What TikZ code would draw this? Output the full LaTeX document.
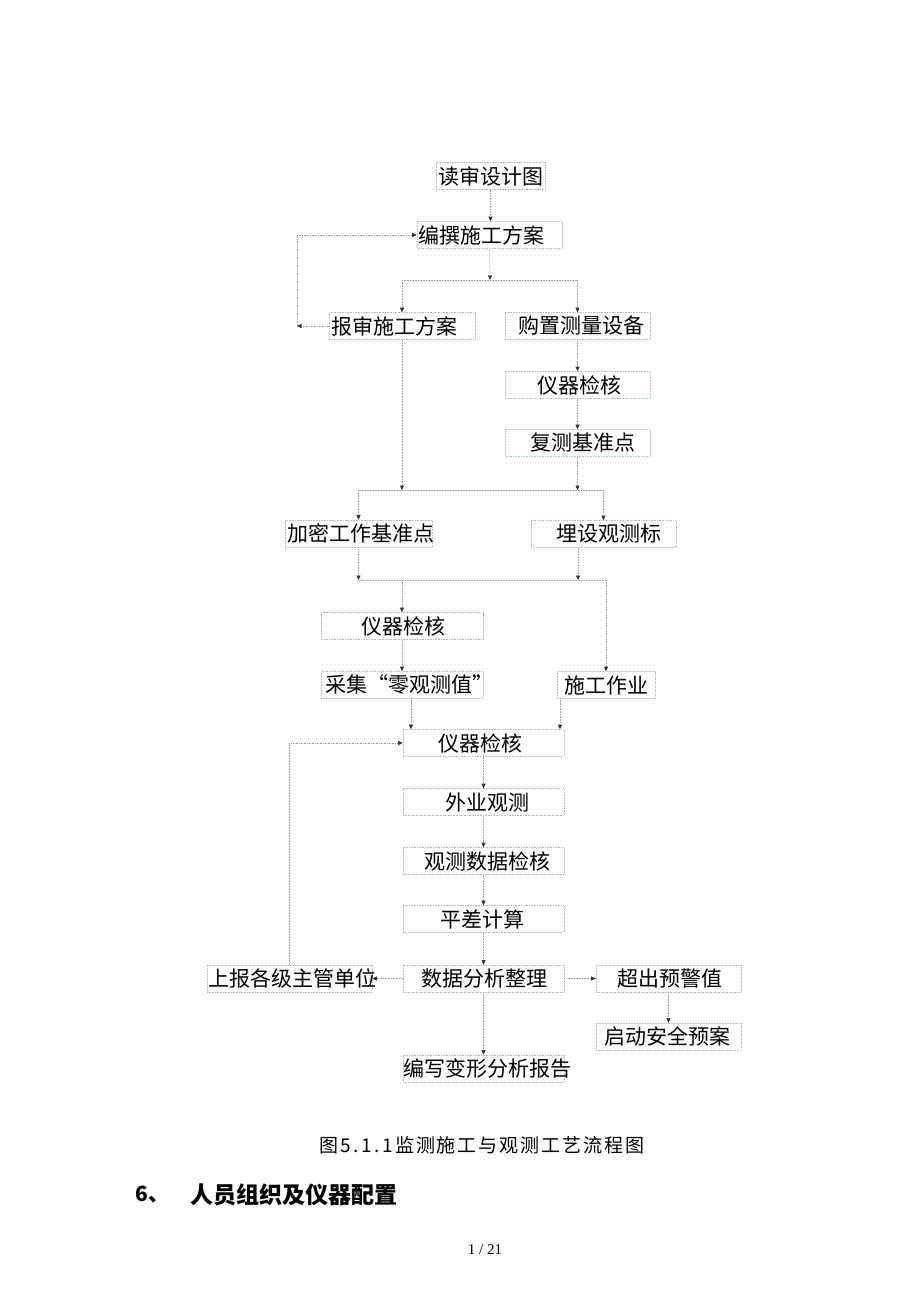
\documentclass[tikz,border=0pt]{standalone}
\usepackage{fontspec}
\setmainfont{Liberation Serif}
\newfontfamily\cjk{Noto Sans CJK SC}
\newfontfamily\cjkcap[LetterSpace=10]{Noto Sans CJK SC}
\usetikzlibrary{arrows.meta}
\newcommand\boxtxt[3]{\makebox[#1pt][l]{\hspace{#2pt}#3}}
\definecolor{bgray}{HTML}{B8B8B8}
\definecolor{bgreen}{HTML}{A8D8A8}
\definecolor{bpink}{HTML}{E0A8E0}
\definecolor{lgray}{HTML}{A0A0A0}
\begin{document}
\begin{tikzpicture}[x=1pt,y=-1pt,
  box/.style={draw=bgray, densely dotted, line width=0.6pt, inner sep=0pt,
    minimum height=27pt, font=\cjk\fontsize{21}{21}\selectfont, text=black},
  conn/.style={draw=lgray, densely dotted, line width=0.6pt},
  arr/.style={conn, -{Triangle[length=4.5pt,width=4pt,color=black!80]}}]
\useasboundingbox[fill=white] (0,0) rectangle (920,1302);

% boxes
\node[box] (rd)  at (490.5,176)  {\boxtxt{109}{2}{读审设计图}};
\node[box,draw=bgreen!60!bgray] (bz)  at (489.5,235)  {\boxtxt{145}{1}{编撰施工方案}};
\node[box] (bs)  at (402,326)    {\boxtxt{146}{2}{报审施工方案}};
\node[box] (gz)  at (577.5,326)  {\boxtxt{145}{13}{购置测量设备}};
\node[box,draw=bgreen!70!bgray] (yq1) at (577.5,385)  {\boxtxt{145}{32}{仪器检核}};
\node[box,draw=bgreen!70!bgray] (fc)  at (577.5,443)  {\boxtxt{145}{25}{复测基准点}};
\node[box] (jm)  at (358.5,533.5){\boxtxt{147}{2}{加密工作基准点}};
\node[box,draw=bpink!60!bgray] (ms)  at (603.5,534)  {\boxtxt{145}{25}{埋设观测标}};
\node[box] (yq2) at (402,626)    {\boxtxt{162}{40}{仪器检核}};
\node[box,draw=bpink!50!bgray] (cj)  at (402,685)    {\boxtxt{162}{4}{采集“零观测值”}};
\node[box,draw=bpink!50!bgray] (sg)  at (606,685)    {\boxtxt{98}{7}{施工作业}};
\node[box,draw=bgreen!60!bgray] (yq3) at (483.5,743)  {\boxtxt{161}{35}{仪器检核}};
\node[box] (wy)  at (483.5,802)  {\boxtxt{161}{42}{外业观测}};
\node[box] (gc)  at (483.5,861)  {\boxtxt{161}{21}{观测数据检核}};
\node[box] (pc)  at (483.5,919)  {\boxtxt{161}{37}{平差计算}};
\node[box] (sj)  at (483.5,978.5){\boxtxt{161}{18}{数据分析整理}};
\node[box] (sb)  at (289.5,978.5){\boxtxt{165}{1}{上报各级主管单位}};
\node[box] (cc)  at (668.5,978.5){\boxtxt{145}{21}{超出预警值}};
\node[box] (qd)  at (668.5,1036.5){\boxtxt{145}{8}{启动安全预案}};
\node[box] (bx)  at (483.5,1068.5){\boxtxt{161}{0}{编写变形分析报告}};

% junction coordinates
\coordinate (j1)  at (490,280);
\coordinate (j1l) at (402,280);
\coordinate (j1r) at (577.5,280);
\coordinate (fbl) at (297,326);
\coordinate (j2l) at (358.5,490);
\coordinate (j2a) at (402,490);
\coordinate (j2b) at (577.5,490);
\coordinate (j2r) at (603.5,490);
\coordinate (j3l) at (358.5,580);
\coordinate (j3a) at (402,580);
\coordinate (j3b) at (578,580);
\coordinate (j3r) at (606,580);
\coordinate (cjo) at (411,698);
\coordinate (sgo) at (560,698);
\coordinate (mso) at (578,547.5);
\coordinate (sbo) at (289,965);

% connectors
\draw[arr] (rd.south) -- (rd.south |- bz.north);
\draw[arr] (bz.south) -- (j1);
\draw[conn] (j1l) -- (j1r);
\draw[arr] (j1l) -- (bs.north);
\draw[arr] (j1r) -- (gz.north);
\draw[arr] (bs.west) -- (fbl);
\draw[arr] (fbl) |- (bz.west);
\draw[arr] (gz.south) -- (yq1.north);
\draw[arr] (yq1.south) -- (fc.north);
\draw[arr] (bs.south) -- (j2a);
\draw[arr] (fc.south) -- (j2b);
\draw[conn] (j2l) -- (j2r);
\draw[arr] (j2l) -- (jm.north);
\draw[arr] (j2r) -- (ms.north);
\draw[arr] (jm.south) -- (j3l);
\draw[arr] (mso) -- (j3b);
\draw[conn] (j3l) -- (j3r);
\draw[arr] (j3a) -- (yq2.north);
\draw[arr] (j3r) -- (sg.north);
\draw[arr] (yq2.south) -- (cj.north);
\draw[arr] (cjo) -- (cjo |- yq3.north);
\draw[arr] (sgo) -- (sgo |- yq3.north);
\draw[arr] (yq3.south) -- (wy.north);
\draw[arr] (wy.south) -- (gc.north);
\draw[arr] (gc.south) -- (pc.north);
\draw[arr] (pc.south) -- (sj.north);
\draw[arr] (sj.west) -- (sb.east);
\draw[arr] (sj.east) -- (cc.west);
\draw[arr] (cc.south) -- (qd.north);
\draw[arr] (sj.south) -- (bx.north);
\draw[arr] (sbo) |- (yq3.west);

% caption and page text
\node[font=\cjkcap\fontsize{19}{19}\selectfont] (cap) at (482,1145) {图5.\,1.\,1监测施工与观测工艺流程图};
\node[font=\cjk\bfseries\fontsize{21}{21}\selectfont, anchor=west] (h6) at (132,1195) {6、};
\node[font=\cjk\bfseries\fontsize{23}{23}\selectfont, anchor=west] (ht) at (187,1195) {人员组织及仪器配置};
\node[font=\fontsize{15}{15}\selectfont] (pg) at (485,1250) {1 / 21};
\end{tikzpicture}
\end{document}
